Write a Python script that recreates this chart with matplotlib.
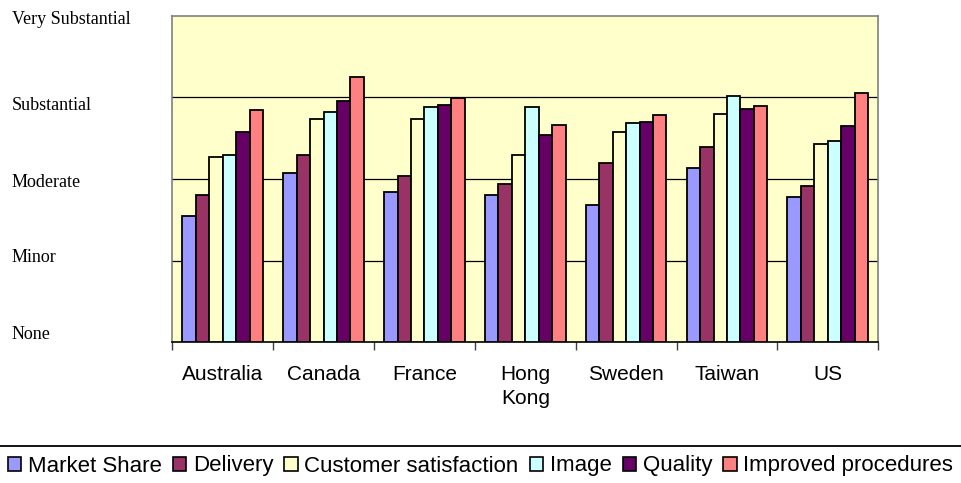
import matplotlib
matplotlib.use("Agg")
import matplotlib.pyplot as plt
import matplotlib.transforms as mtransforms
from matplotlib.lines import Line2D
import numpy as np

countries = ["Australia", "Canada", "France", "Hong\nKong", "Sweden", "Taiwan", "US"]
level_labels = ["None", "Minor", "Moderate", "Substantial", "Very Substantial"]

series_names = ["Market Share", "Delivery", "Customer satisfaction",
                "Image", "Quality", "Improved procedures"]
market_share = [1.55, 2.07, 1.84, 1.80, 1.68, 2.14, 1.78]
delivery = [1.80, 2.29, 2.04, 1.94, 2.19, 2.39, 1.92]
customer_satisfaction = [2.27, 2.74, 2.74, 2.29, 2.58, 2.80, 2.43]
image = [2.29, 2.82, 2.88, 2.88, 2.68, 3.02, 2.47]
quality = [2.58, 2.96, 2.91, 2.54, 2.70, 2.86, 2.65]
improved_procedures = [2.84, 3.25, 2.99, 2.66, 2.78, 2.90, 3.05]

series = [market_share, delivery, customer_satisfaction,
          image, quality, improved_procedures]
colors = ["#9999FF", "#993366", "#FFFFCC", "#CCFFFF", "#660066", "#FF8080"]

fig = plt.figure(figsize=(9.61, 4.83), dpi=100)
ax = fig.add_axes([0.1793, 0.2913, 0.7346, 0.6762])
ax.set_facecolor("#FFFFCC")

n = len(series)
width = 0.8 / n
x = np.arange(len(countries))
for j, (vals, col, name) in enumerate(zip(series, colors, series_names)):
    ax.bar(x + (j - (n - 1) / 2) * width, vals, width=width, color=col,
           edgecolor="black", linewidth=1.3, label=name, zorder=3)

ax.set_xlim(-0.5, len(countries) - 0.5)
ax.set_ylim(0, 4)

# horizontal gridlines at each level
for lvl in range(1, 4):
    ax.axhline(lvl, color="black", linewidth=0.9, zorder=1)

# spines
for side in ("top", "left", "right"):
    ax.spines[side].set_color("#808080")
    ax.spines[side].set_linewidth(1.2)
ax.spines["bottom"].set_color("black")
ax.spines["bottom"].set_linewidth(1.2)

# x ticks at group boundaries, labels at group centres
ax.set_xticks(np.arange(-0.5, len(countries)), labels=[])
ax.set_xticks(x, labels=countries, minor=True)
ax.tick_params(axis="x", which="major", direction="out", length=6,
               width=1.0, color="#404040")
ax.tick_params(axis="x", which="minor", length=0, pad=16.5,
               labelsize=15)
for lab in ax.get_xticklabels(minor=True):
    lab.set_fontfamily("Liberation Sans")
    lab.set_linespacing(1.35)
    lab.set_verticalalignment("top")

# y level labels, left aligned at the figure edge
ax.set_yticks([])
nudges_px = [-3.3, 1.7, 7.7, 12.7, 8.3]
for lvl, (txt, dy) in enumerate(zip(level_labels, nudges_px)):
    tr = mtransforms.blended_transform_factory(fig.transFigure, ax.transData)
    tr = tr + mtransforms.ScaledTranslation(0, -dy / 100, fig.dpi_scale_trans)
    fig.text(12 / 961, lvl, txt, transform=tr, ha="left", va="baseline",
             fontsize=13, family="Liberation Serif", color="black")

# separator line above the legend
fig.add_artist(Line2D([0, 1], [1 - 445.7 / 483] * 2, transform=fig.transFigure,
                      color="black", linewidth=1.3))

handles, labels = ax.get_legend_handles_labels()
leg = fig.legend(handles, labels, loc="center", bbox_to_anchor=(0.5, 1 - 466 / 483),
                 ncol=6, frameon=False, prop={"family": "Liberation Sans", "size": 16},
                 handlelength=0.6, handleheight=0.6, handletextpad=0.3,
                 columnspacing=0.5, borderpad=0.1)
for h in leg.legend_handles:
    h.set_linewidth(1.2)

fig.savefig("out.png", dpi=100)
